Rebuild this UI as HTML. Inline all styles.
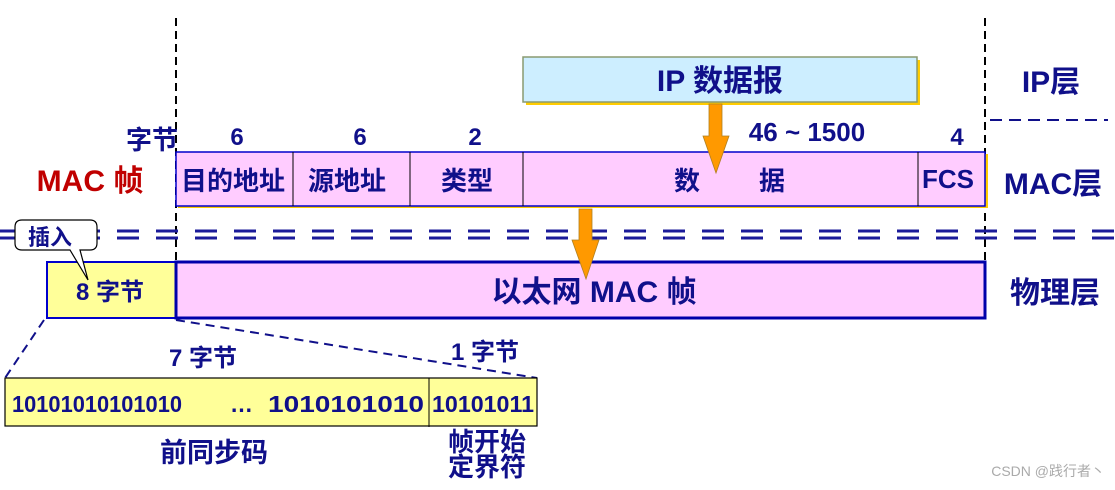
<!DOCTYPE html>
<html><head><meta charset="utf-8"><style>
html,body{margin:0;padding:0;background:#fff;}
svg{display:block;}
text{font-family:"Liberation Sans","Noto Sans CJK SC",sans-serif;font-weight:bold;fill:#10108a;}
</style></head><body>
<svg width="1115" height="490" viewBox="0 0 1115 490" xmlns="http://www.w3.org/2000/svg">
<line x1="176" y1="18" x2="176" y2="262" stroke="#000" stroke-width="2" stroke-dasharray="8,5"/>
<line x1="985" y1="18" x2="985" y2="262" stroke="#000" stroke-width="2" stroke-dasharray="8,5"/>
<line x1="990" y1="120" x2="1108" y2="120" stroke="#10108a" stroke-width="2" stroke-dasharray="12,7"/>
<rect x="526" y="60" width="394" height="45" fill="#ffcc00"/>
<rect x="523" y="57" width="394" height="45" fill="#cdeeff" stroke="#8a9a70" stroke-width="1.5"/>
<text x="720" y="91" font-size="30" text-anchor="middle">IP 数据报</text>
<text x="1051" y="92" font-size="30" text-anchor="middle">IP层</text>
<text x="152" y="149" font-size="26" text-anchor="middle">字节</text>
<text x="237" y="145" font-size="24" text-anchor="middle">6</text>
<text x="360" y="145" font-size="24" text-anchor="middle">6</text>
<text x="475" y="145" font-size="24" text-anchor="middle">2</text>
<text x="807" y="141" font-size="26" text-anchor="middle">46 ~ 1500</text>
<text x="957" y="145" font-size="24" text-anchor="middle">4</text>
<rect x="178" y="154" width="810" height="54" fill="#ffcc00"/>
<rect x="176" y="152" width="809" height="54" fill="#ffccff" stroke="#0000cc" stroke-width="1.5"/>
<g stroke="#000" stroke-width="1"><line x1="293" y1="152" x2="293" y2="206"/><line x1="410" y1="152" x2="410" y2="206"/><line x1="523" y1="152" x2="523" y2="206"/><line x1="918" y1="152" x2="918" y2="206"/></g>
<text x="90" y="191" font-size="30" text-anchor="middle" style="fill:#c00000">MAC 帧</text>
<text x="233" y="190" font-size="26" text-anchor="middle">目的地址</text>
<text x="347" y="190" font-size="26" text-anchor="middle">源地址</text>
<text x="467" y="190" font-size="26" text-anchor="middle">类型</text>
<text x="687" y="190" font-size="26" text-anchor="middle">数</text>
<text x="772" y="190" font-size="26" text-anchor="middle">据</text>
<text x="948" y="188" font-size="26" text-anchor="middle">FCS</text>
<text x="1053" y="194" font-size="30" text-anchor="middle">MAC层</text>
<line x1="0" y1="231" x2="1115" y2="231" stroke="#1a1a99" stroke-width="3" stroke-dasharray="22,17"/>
<line x1="0" y1="238" x2="1115" y2="238" stroke="#1a1a99" stroke-width="3" stroke-dasharray="22,17"/>
<polygon points="709,104 722,104 722,136 729,136 716,173 703,136 709,136" fill="#ff9900" stroke="#b08020" stroke-width="0.8"/>
<rect x="47" y="262" width="129" height="56" fill="#ffff99" stroke="#0000cc" stroke-width="2"/>
<rect x="176" y="262" width="809" height="56" fill="#ffccff" stroke="#0000aa" stroke-width="3"/>
<polygon points="579,209 592,209 592,240 599,240 586,279 572,240 579,240" fill="#ff9900" stroke="#b08020" stroke-width="0.8"/>
<text x="110" y="300" font-size="24" text-anchor="middle">8 字节</text>
<text x="594" y="302" font-size="30" text-anchor="middle">以太网 MAC 帧</text>
<text x="1055" y="303" font-size="30" text-anchor="middle">物理层</text>
<path d="M22,220 H90 Q97,220 97,227 V243 Q97,250 90,250 H80 L88,280 L70,250 H22 Q15,250 15,243 V227 Q15,220 22,220 Z" fill="#fff" stroke="#000" stroke-width="1.2"/>
<text x="50" y="245" font-size="22" text-anchor="middle">插入</text>
<line x1="44" y1="320" x2="5" y2="378" stroke="#10108a" stroke-width="2" stroke-dasharray="9,6"/>
<line x1="176" y1="320" x2="537" y2="378" stroke="#10108a" stroke-width="2" stroke-dasharray="9,6"/>
<rect x="5" y="378" width="532" height="48" fill="#ffff99" stroke="#000" stroke-width="1.2"/>
<line x1="429" y1="378" x2="429" y2="427" stroke="#000" stroke-width="1"/>
<text x="12" y="412" font-size="23" textLength="170" lengthAdjust="spacingAndGlyphs">10101010101010</text>
<text x="230" y="412" font-size="23">…</text>
<text x="268" y="412" font-size="23" textLength="156" lengthAdjust="spacingAndGlyphs">1010101010</text>
<text x="432" y="412" font-size="23" textLength="102" lengthAdjust="spacingAndGlyphs">10101011</text>
<text x="203" y="366" font-size="24" text-anchor="middle">7 字节</text>
<text x="485" y="360" font-size="24" text-anchor="middle">1 字节</text>
<text x="214" y="462" font-size="27" text-anchor="middle">前同步码</text>
<text x="487" y="451" font-size="26" text-anchor="middle">帧开始</text>
<text x="487" y="476" font-size="26" text-anchor="middle">定界符</text>
<text x="1105" y="476" font-size="14" text-anchor="end" style="fill:#aaaaaa;font-weight:normal">CSDN @践行者丶</text>
</svg>
</body></html>
